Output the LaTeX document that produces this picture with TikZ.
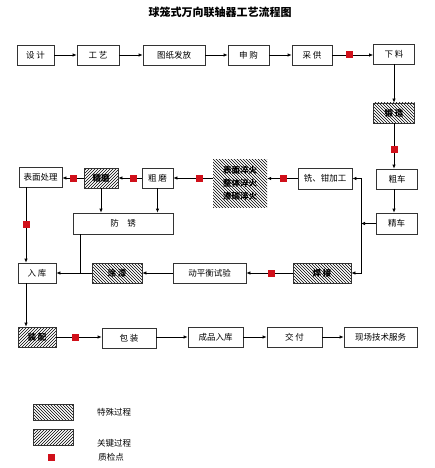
\documentclass[tikz,border=0pt]{standalone}
\usepackage{fontspec}
\setmainfont{Noto Sans CJK SC}
\usetikzlibrary{arrows.meta,patterns}
\definecolor{boxline}{HTML}{333333}
\definecolor{qcred}{HTML}{D0101A}
\tikzset{
  procbox/.style={
    draw=boxline,
    line width=0.7pt,
    minimum height=20pt,
    inner sep=1pt,
    align=center,
    font=\fontsize{8.5}{10}\selectfont,
    fill=white
  },
  special/.style={procbox, pattern=north west lines, font=\fontsize{8.5}{10}\selectfont\bfseries},
  keyproc/.style={procbox, pattern=north east lines, font=\fontsize{8.5}{10}\selectfont\bfseries},
  qc/.style={fill=qcred, minimum size=7pt, inner sep=0pt},
  flow/.style={-{Latex[length=4pt,width=3.5pt]}, line width=0.7pt},
  link/.style={line width=0.7pt},
  legendtext/.style={font=\fontsize{8.5}{10}\selectfont}
}

\begin{document}
\begin{tikzpicture}[x=1pt,y=-1pt]
\useasboundingbox (0,0) rectangle (434,468);

\node[font=\fontsize{11}{13}\selectfont\bfseries] (title) at (220,12) {球笼式万向联轴器工艺流程图};

% first row
\node[procbox, minimum width=37pt] (sheji) at (35.5,55) {设\ 计};
\node[procbox, minimum width=42pt] (gongyi) at (98,55) {工\ 艺};
\node[procbox, minimum width=62pt] (tuzhi) at (174,55) {图纸发放};
\node[procbox, minimum width=41pt] (shengou) at (248.5,55) {申\ 购};
\node[procbox, minimum width=40pt] (caigong) at (312,55) {采\ 供};
\node[procbox, minimum width=41pt] (xialiao) at (394,54) {下\ 料};

\draw[flow] (sheji) -- (gongyi);
\draw[flow] (gongyi) -- (tuzhi);
\draw[flow] (tuzhi) -- (shengou);
\draw[flow] (shengou) -- (caigong);
\draw[flow] (caigong.east) -- (caigong.east -| xialiao.west);
\node[qc] (q1) at (349,55) {};

% right column
\node[special, minimum width=41pt] (duanzao) at (394,113) {锻\ 造};
\node[procbox, minimum width=41pt] (cuche) at (397,179) {粗车};
\node[procbox, minimum width=41pt, minimum height=21pt] (jingche) at (396.5,223.5) {精车};

\draw[flow] (xialiao) -- (duanzao);
\draw[flow] (duanzao.south) -- (duanzao.south |- cuche.north);
\node[qc] (q2) at (394,149) {};
\draw[flow] (cuche.south -| duanzao.south) -- (duanzao.south |- jingche.north);

% bus to machining and welding
\coordinate (bus) at (361,223.5);
\node[procbox, minimum width=54pt, minimum height=21pt] (xiqian) at (325,178.5) {铣、钳加工};
\node[special, minimum width=58pt] (hanjie) at (322,273) {焊\ 接};
\draw[flow] (jingche.west) -- (bus);
\draw[flow] (bus) |- (xiqian.east);
\draw[flow] (bus) |- (hanjie.east);

% heat treatment
\node[pattern=north west lines, minimum width=54pt, minimum height=48pt, inner sep=0pt,
  align=center, font=\fontsize{8.5}{13}\selectfont\bfseries] (rechuli) at (240,183)
  {表面淬火\\整体淬火\\渗碳淬火};

% second row
\node[procbox, minimum width=31pt] (cumo) at (157.5,178) {粗\ 磨};
\node[keyproc, minimum width=34pt] (jingmo) at (101,178) {精磨};
\node[procbox, minimum width=43pt] (biaomian) at (40.5,177) {表面处理};

\draw[flow] (xiqian.west) -- (xiqian.west -| rechuli.east);
\node[qc] (q3) at (283,178) {};
\draw[flow] (rechuli.west |- cumo.east) -- (cumo.east);
\node[qc] (q4) at (199,178) {};
\draw[flow] (cumo) -- (jingmo);
\node[qc] (q5) at (133,178) {};
\draw[flow] (jingmo.west) -- (jingmo.west -| biaomian.east);
\node[qc] (q6) at (73,178) {};

\node[procbox, minimum width=100pt, minimum height=21pt] (fangxiu) at (123,223.5) {防\quad 锈};
\draw[flow] (jingmo.south) -- (jingmo.south |- fangxiu.north);
\draw[flow] (cumo.south) -- (cumo.south |- fangxiu.north);

% third row
\node[procbox, minimum width=38pt] (ruku) at (37,273) {入\ 库};
\node[special, minimum width=50pt] (tuqi) at (117,273) {涂\ 漆};
\node[procbox, minimum width=73pt] (dongpingheng) at (209.5,273) {动平衡试验};

\draw[flow] (hanjie) -- (dongpingheng);
\node[qc] (q8) at (271,273) {};
\draw[flow] (dongpingheng) -- (tuqi);
\draw[flow] (tuqi) -- (ruku);
\coordinate (xiujoin) at (80,273);
\draw[link] (fangxiu.south -| xiujoin) -- (xiujoin);

\coordinate (leftcol) at (26,0);
\draw[flow] (leftcol |- biaomian.south) -- (leftcol |- ruku.north);
\node[qc] (q7) at (26,224) {};

% last row
\node[keyproc, minimum width=38pt] (zhuangpei) at (37,337) {装\ 配};
\node[procbox, minimum width=54pt] (baozhuang) at (129,338) {包\ 装};
\node[procbox, minimum width=55pt] (chengpin) at (215.5,337) {成品入库};
\node[procbox, minimum width=55pt] (jiaofu) at (294.5,337) {交\ 付};
\node[procbox, minimum width=73pt] (xianchang) at (380.5,337) {现场技术服务};

\draw[flow] (leftcol |- ruku.south) -- (leftcol |- zhuangpei.north);
\draw[flow] (zhuangpei.east) -- (zhuangpei.east -| baozhuang.west);
\node[qc] (q9) at (75,337) {};
\draw[flow] (baozhuang.east |- chengpin.west) -- (chengpin.west);
\draw[flow] (chengpin) -- (jiaofu);
\draw[flow] (jiaofu) -- (xianchang);

% legend
\node[special, minimum width=40pt, minimum height=16pt] (legspecial) at (53,412) {};
\node[keyproc, minimum width=40pt, minimum height=16pt] (legkey) at (53,437.5) {};
\node[qc] (legqc) at (51,457) {};
\node[legendtext] (legspecialtxt) at (114,412) {特殊过程};
\node[legendtext] (legkeytxt) at (114,443) {关键过程};
\node[legendtext] (legqctxt) at (111,457) {质检点};

\end{tikzpicture}
\end{document}
